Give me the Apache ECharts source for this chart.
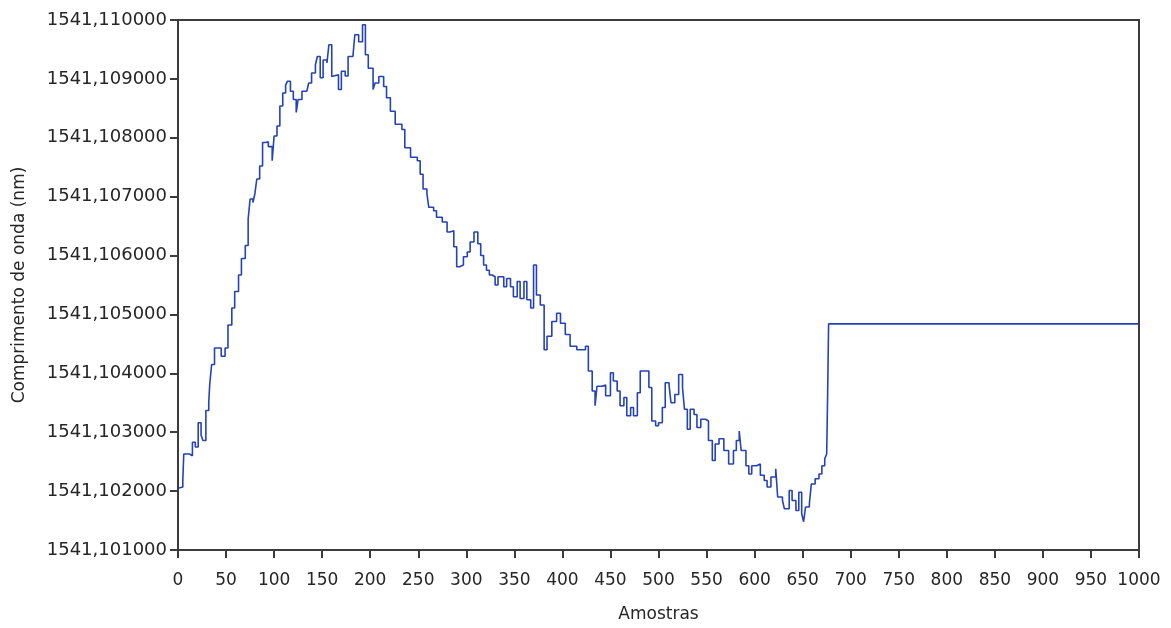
<!DOCTYPE html>
<html>
<head>
<meta charset="utf-8">
<script src="https://cdn.jsdelivr.net/npm/echarts@6/dist/echarts.min.js"></script>
<style>
  html, body { margin: 0; padding: 0; background: #ffffff; }
  #chart { width: 1171px; height: 628px; }
</style>
</head>
<body>
<div id="chart"></div>
<script>
// Sample index (Amostras)
const samples = [
  0, 1, 5, 6, 12, 15, 18, 21, 24, 26, 29, 32, 33, 35, 38, 42, 45, 49, 52, 56,
  59, 63, 66, 70, 73, 75, 78, 80, 82, 85, 88, 91, 94, 98, 100, 103, 106, 109, 112, 114,
  117, 120, 123, 125, 129, 134, 136, 139, 143, 145, 148, 151, 155, 157, 160, 162, 167, 170, 174, 177,
  182, 184, 188, 192, 195, 198, 203, 205, 209, 214, 217, 221, 226, 233, 236, 242, 249, 252, 255, 259,
  261, 266, 269, 275, 280, 283, 287, 290, 293, 297, 301, 304, 308, 312, 315, 318, 321, 324, 327, 330,
  333, 339, 342, 346, 349, 353, 356, 360, 363, 367, 370, 373, 377, 381, 384, 389, 394, 398, 403, 408,
  415, 424, 427, 431, 434, 436, 441, 445, 450, 453, 457, 460, 464, 467, 471, 474, 478, 481, 486, 490,
  493, 497, 500, 504, 507, 511, 513, 517, 521, 525, 527, 530, 533, 537, 540, 544, 549, 552, 556, 559,
  563, 568, 573, 578, 581, 584, 586, 591, 594, 597, 602, 606, 610, 613, 617, 622, 624, 629, 631, 636,
  639, 643, 646, 649, 651, 653, 657, 659, 663, 667, 670, 673, 675, 676, 677, 1000
];

// Wavelength (Comprimento de onda, nm)
const wavelength = [
  1541.10205, 1541.10207, 1541.10218, 1541.10263, 1541.10260, 1541.10283, 1541.10275, 1541.10316, 1541.10295, 1541.10286,
  1541.10337, 1541.10350, 1541.10381, 1541.10415, 1541.10443, 1541.10443, 1541.10429, 1541.10443, 1541.10482, 1541.10511,
  1541.10539, 1541.10567, 1541.10595, 1541.10617, 1541.10662, 1541.10696, 1541.10690, 1541.10705, 1541.10730, 1541.10752,
  1541.10792, 1541.10793, 1541.10785, 1541.10761, 1541.10803, 1541.10820, 1541.10854, 1541.10876, 1541.10890, 1541.10896,
  1541.10879, 1541.10865, 1541.10843, 1541.10865, 1541.10879, 1541.10882, 1541.10893, 1541.10910, 1541.10924, 1541.10938,
  1541.10902, 1541.10932, 1541.10927, 1541.10958, 1541.10904, 1541.10907, 1541.10882, 1541.10913, 1541.10905, 1541.10938,
  1541.10941, 1541.10975, 1541.10963, 1541.10992, 1541.10941, 1541.10918, 1541.10882, 1541.10893, 1541.10904, 1541.10887,
  1541.10868, 1541.10845, 1541.10823, 1541.10814, 1541.10783, 1541.10767, 1541.10761, 1541.10738, 1541.10713, 1541.10705,
  1541.10682, 1541.10676, 1541.10665, 1541.10657, 1541.10640, 1541.10642, 1541.10615, 1541.10581, 1541.10584, 1541.10598,
  1541.10606, 1541.10623, 1541.10640, 1541.10620, 1541.10600, 1541.10584, 1541.10575, 1541.10567, 1541.10564, 1541.10550,
  1541.10564, 1541.10547, 1541.10561, 1541.10547, 1541.10530, 1541.10556, 1541.10527, 1541.10556, 1541.10525, 1541.10511,
  1541.10584, 1541.10533, 1541.10516, 1541.10440, 1541.10463, 1541.10488, 1541.10502, 1541.10485, 1541.10466, 1541.10446,
  1541.10440, 1541.10446, 1541.10404, 1541.10370, 1541.10345, 1541.10378, 1541.10380, 1541.10362, 1541.10401, 1541.10387,
  1541.10370, 1541.10345, 1541.10359, 1541.10328, 1541.10342, 1541.10328, 1541.10367, 1541.10404, 1541.10404, 1541.10376,
  1541.10319, 1541.10311, 1541.10316, 1541.10342, 1541.10384, 1541.10380, 1541.10350, 1541.10364, 1541.10398, 1541.10376,
  1541.10339, 1541.10305, 1541.10339, 1541.10330, 1541.10308, 1541.10322, 1541.10319, 1541.10286, 1541.10252, 1541.10280,
  1541.10289, 1541.10269, 1541.10246, 1541.10269, 1541.10286, 1541.10302, 1541.10269, 1541.10243, 1541.10229, 1541.10243,
  1541.10246, 1541.10227, 1541.10218, 1541.10207, 1541.10224, 1541.10238, 1541.10190, 1541.10184, 1541.10170, 1541.10201,
  1541.10184, 1541.10167, 1541.10198, 1541.10162, 1541.10148, 1541.10173, 1541.10179, 1541.10212, 1541.10221, 1541.10229,
  1541.10243, 1541.10255, 1541.10263, 1541.10364, 1541.10484, 1541.10484
];

// Axis ticks
const xTicks = { min: 0, max: 1000, step: 50 };
const yTicks = { min: 1541.101, max: 1541.110, step: 0.001 };

const points = samples.map((s, i) => [s, wavelength[i]]);

const textColor = '#262626';
const axisColor = '#3c3c3c';

const chart = echarts.init(document.getElementById('chart'), null, { renderer: 'canvas' });
chart.setOption({
  animation: false,
  backgroundColor: '#ffffff',
  grid: {
    left: 178, right: 32, top: 20, bottom: 75,
    show: true, borderColor: axisColor, borderWidth: 2, backgroundColor: '#ffffff'
  },
  xAxis: {
    type: 'value',
    min: xTicks.min, max: xTicks.max, interval: xTicks.step,
    name: 'Amostras',
    nameLocation: 'middle',
    nameGap: 56,
    nameTextStyle: { fontFamily: 'DejaVu Sans', fontSize: 17, color: textColor },
    axisLine: { show: true, lineStyle: { color: axisColor, width: 2 } },
    axisTick: { show: true, inside: false, length: 8, lineStyle: { color: axisColor, width: 2 } },
    axisLabel: {
      margin: 22,
      fontFamily: 'DejaVu Sans', fontSize: 17, color: textColor,
      formatter: v => String(Math.round(v))
    },
    splitLine: { show: false }
  },
  yAxis: {
    type: 'value',
    min: yTicks.min, max: yTicks.max, interval: yTicks.step,
    name: 'Comprimento de onda (nm)',
    nameLocation: 'middle',
    nameGap: 150,
    nameTextStyle: { fontFamily: 'DejaVu Sans', fontSize: 17, color: textColor },
    axisLine: { show: true, lineStyle: { color: axisColor, width: 2 } },
    axisTick: { show: true, inside: false, length: 8, lineStyle: { color: axisColor, width: 2 } },
    axisLabel: {
      margin: 11,
      fontFamily: 'DejaVu Sans', fontSize: 18, color: textColor,
      formatter: v => v.toFixed(6).replace('.', ',')
    },
    splitLine: { show: false }
  },
  series: [{
    type: 'line',
    data: points,
    step: 'end',
    showSymbol: false,
    lineStyle: { color: '#2443b8', width: 1.6 },
    itemStyle: { color: '#2443b8' }
  }]
});
</script>
</body>
</html>
